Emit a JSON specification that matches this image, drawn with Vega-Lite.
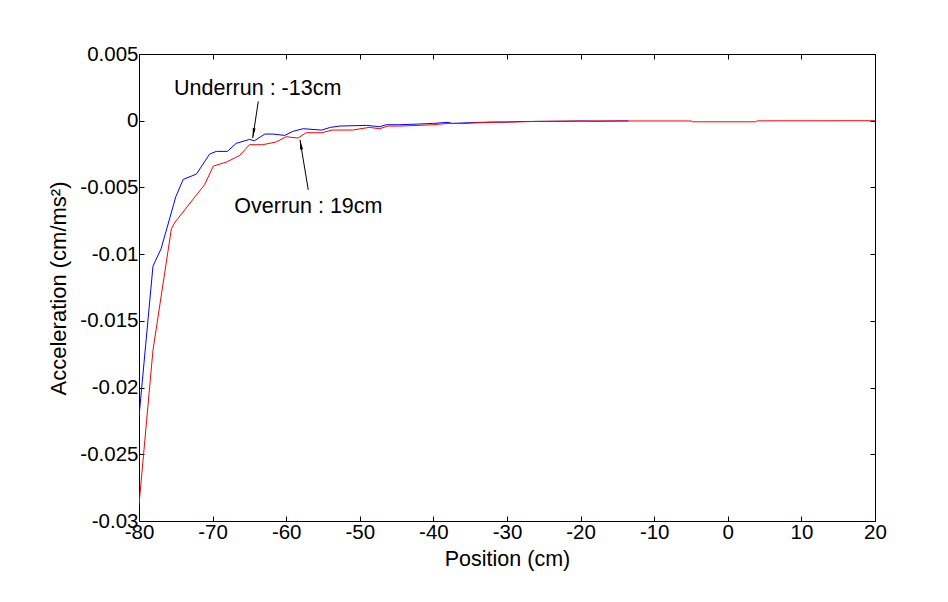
{
  "$schema": "https://vega.github.io/schema/vega-lite/v6.json",
  "autosize": "none",
  "width": 736,
  "height": 467,
  "padding": {"left": 139, "top": 54, "right": 73, "bottom": 81},
  "background": "white",
  "config": {
    "font": "Liberation Sans",
    "view": {"stroke": "black", "strokeWidth": 1},
    "axis": {
      "grid": false,
      "domainColor": "black",
      "tickColor": "black",
      "labelColor": "black",
      "titleColor": "black",
      "labelFont": "Liberation Sans",
      "titleFont": "Liberation Sans",
      "labelFontSize": 20.5,
      "titleFontSize": 21.5,
      "titleFontWeight": "normal",
      "tickSize": -5,
      "labelPadding": 6,
      "labelFlush": false,
      "labelOverlap": false
    }
  },
  "datasets": {
    "curves": [
      {"x": -80, "y": -0.0222, "run": "Underrun"},
      {"x": -78.1, "y": -0.0109, "run": "Underrun"},
      {"x": -77.0, "y": -0.0096, "run": "Underrun"},
      {"x": -75.0, "y": -0.0057, "run": "Underrun"},
      {"x": -74.0, "y": -0.0044, "run": "Underrun"},
      {"x": -72.2, "y": -0.0040, "run": "Underrun"},
      {"x": -70.4, "y": -0.0025, "run": "Underrun"},
      {"x": -69.5, "y": -0.0023, "run": "Underrun"},
      {"x": -68.0, "y": -0.0023, "run": "Underrun"},
      {"x": -66.8, "y": -0.0017, "run": "Underrun"},
      {"x": -65.0, "y": -0.0014, "run": "Underrun"},
      {"x": -64.3, "y": -0.0015, "run": "Underrun"},
      {"x": -62.9, "y": -0.0010, "run": "Underrun"},
      {"x": -61.8, "y": -0.0010, "run": "Underrun"},
      {"x": -60.2, "y": -0.0011, "run": "Underrun"},
      {"x": -59.1, "y": -0.0008, "run": "Underrun"},
      {"x": -57.7, "y": -0.0006, "run": "Underrun"},
      {"x": -55.2, "y": -0.0007, "run": "Underrun"},
      {"x": -54.0, "y": -0.0005, "run": "Underrun"},
      {"x": -52.7, "y": -0.0004, "run": "Underrun"},
      {"x": -49.1, "y": -0.00035, "run": "Underrun"},
      {"x": -47.3, "y": -0.00045, "run": "Underrun"},
      {"x": -46.4, "y": -0.0003, "run": "Underrun"},
      {"x": -44.6, "y": -0.0003, "run": "Underrun"},
      {"x": -42.0, "y": -0.00025, "run": "Underrun"},
      {"x": -40.0, "y": -0.0002, "run": "Underrun"},
      {"x": -38.0, "y": -0.00012, "run": "Underrun"},
      {"x": -37.5, "y": -0.0002, "run": "Underrun"},
      {"x": -35.0, "y": -0.00015, "run": "Underrun"},
      {"x": -32.0, "y": -0.0001, "run": "Underrun"},
      {"x": -30.0, "y": -0.0001, "run": "Underrun"},
      {"x": -28.0, "y": -0.00006, "run": "Underrun"},
      {"x": -25.0, "y": -0.00005, "run": "Underrun"},
      {"x": -22.0, "y": -0.00004, "run": "Underrun"},
      {"x": -20.0, "y": -0.00002, "run": "Underrun"},
      {"x": -18.0, "y": -0.00004, "run": "Underrun"},
      {"x": -15.0, "y": -0.00002, "run": "Underrun"},
      {"x": -13.5, "y": -0.00001, "run": "Underrun"},
      {"x": -80, "y": -0.0288, "run": "Overrun"},
      {"x": -78.1, "y": -0.0172, "run": "Overrun"},
      {"x": -75.6, "y": -0.0081, "run": "Overrun"},
      {"x": -75.1, "y": -0.0076, "run": "Overrun"},
      {"x": -71.1, "y": -0.0048, "run": "Overrun"},
      {"x": -69.9, "y": -0.0034, "run": "Overrun"},
      {"x": -68.1, "y": -0.0031, "run": "Overrun"},
      {"x": -66.3, "y": -0.0026, "run": "Overrun"},
      {"x": -65.0, "y": -0.0018, "run": "Overrun"},
      {"x": -63.2, "y": -0.0018, "run": "Overrun"},
      {"x": -61.4, "y": -0.0016, "run": "Overrun"},
      {"x": -60.0, "y": -0.0012, "run": "Overrun"},
      {"x": -58.4, "y": -0.0013, "run": "Overrun"},
      {"x": -57.3, "y": -0.0009, "run": "Overrun"},
      {"x": -55.2, "y": -0.0009, "run": "Overrun"},
      {"x": -53.7, "y": -0.0007, "run": "Overrun"},
      {"x": -51.0, "y": -0.0007, "run": "Overrun"},
      {"x": -48.7, "y": -0.0005, "run": "Overrun"},
      {"x": -47.3, "y": -0.0006, "run": "Overrun"},
      {"x": -46.2, "y": -0.0004, "run": "Overrun"},
      {"x": -44.6, "y": -0.0004, "run": "Overrun"},
      {"x": -42.0, "y": -0.00035, "run": "Overrun"},
      {"x": -40.0, "y": -0.0003, "run": "Overrun"},
      {"x": -38.0, "y": -0.0002, "run": "Overrun"},
      {"x": -36.0, "y": -0.00022, "run": "Overrun"},
      {"x": -34.0, "y": -0.00015, "run": "Overrun"},
      {"x": -32.0, "y": -0.00012, "run": "Overrun"},
      {"x": -30.0, "y": -0.0001, "run": "Overrun"},
      {"x": -28.0, "y": -0.00008, "run": "Overrun"},
      {"x": -26.0, "y": -0.00005, "run": "Overrun"},
      {"x": -22.0, "y": -0.00003, "run": "Overrun"},
      {"x": -18.0, "y": -0.00002, "run": "Overrun"},
      {"x": -13.0, "y": -0.00002, "run": "Overrun"},
      {"x": -5.0, "y": -0.00002, "run": "Overrun"},
      {"x": -4.8, "y": -0.00008, "run": "Overrun"},
      {"x": 3.8, "y": -0.00008, "run": "Overrun"},
      {"x": 4.0, "y": -0.00001, "run": "Overrun"},
      {"x": 20.0, "y": 0.0, "run": "Overrun"}
    ]
  },
  "resolve": {"axis": {"x": "independent", "y": "independent"}},
  "layer": [
    {
      "data": {"name": "curves"},
      "mark": {"type": "line", "strokeWidth": 1, "clip": true},
      "encoding": {
        "x": {
          "field": "x", "type": "quantitative",
          "scale": {"domain": [-80, 20], "nice": false, "zero": false},
          "axis": {
            "orient": "bottom",
            "values": [-80, -70, -60, -50, -40, -30, -20, -10, 0, 10, 20],
            "format": "d",
            "labelExpr": "replace(datum.label, '\u2212', '-')",
            "title": "Position (cm)",
            "titleBaseline": "alphabetic",
            "titleX": 368,
            "titleY": 44
          }
        },
        "y": {
          "field": "y", "type": "quantitative",
          "scale": {"domain": [-0.03, 0.005], "nice": false, "zero": false},
          "axis": {
            "orient": "left",
            "values": [-0.03, -0.025, -0.02, -0.015, -0.01, -0.005, 0, 0.005],
            "format": "~g",
            "labelExpr": "replace(datum.label, '\u2212', '-')",
            "title": "Acceleration (cm/ms²)",
            "titleAngle": -90,
            "titleBaseline": "alphabetic",
            "titleFontSize": 22,
            "titleX": -74,
            "titleY": 234
          }
        },
        "color": {
          "field": "run", "type": "nominal",
          "scale": {"domain": ["Underrun", "Overrun"], "range": ["#0000ff", "#ff0000"]},
          "legend": null
        }
      }
    },
    {
      "data": {"name": "curves"},
      "mark": {"type": "point", "opacity": 0},
      "encoding": {
        "x": {
          "field": "x", "type": "quantitative",
          "axis": {"orient": "top", "values": [-80, -70, -60, -50, -40, -30, -20, -10, 0, 10, 20], "labels": false, "title": null}
        },
        "y": {
          "field": "y", "type": "quantitative",
          "axis": {"orient": "right", "values": [-0.03, -0.025, -0.02, -0.015, -0.01, -0.005, 0, 0.005], "labels": false, "title": null}
        }
      }
    },
    {
      "data": {"values": [
        {"x": -63.79, "y": 0.00145, "x2": -64.55, "y2": -0.0013},
        {"x": -57.0, "y": -0.00518, "x2": -58.13, "y2": -0.00143}
      ]},
      "mark": {"type": "rule", "color": "black", "strokeWidth": 1},
      "encoding": {
        "x": {"field": "x", "type": "quantitative", "axis": null},
        "y": {"field": "y", "type": "quantitative", "axis": null},
        "x2": {"field": "x2"},
        "y2": {"field": "y2"}
      }
    },
    {
      "data": {"values": [{"x": -64.42, "y": -0.00081}]},
      "mark": {"type": "point", "shape": "wedge", "filled": true, "color": "black", "opacity": 1, "size": 130, "angle": 188.7},
      "encoding": {
        "x": {"field": "x", "type": "quantitative", "axis": null},
        "y": {"field": "y", "type": "quantitative", "axis": null}
      }
    },
    {
      "data": {"values": [{"x": -57.98, "y": -0.00191}]},
      "mark": {"type": "point", "shape": "wedge", "filled": true, "color": "black", "opacity": 1, "size": 130, "angle": 350.6},
      "encoding": {
        "x": {"field": "x", "type": "quantitative", "axis": null},
        "y": {"field": "y", "type": "quantitative", "axis": null}
      }
    },
    {
      "data": {"values": [
        {"x": -75.24, "y": 0.00195, "label": "Underrun : -13cm"},
        {"x": -67.05, "y": -0.00692, "label": "Overrun : 19cm"}
      ]},
      "mark": {"type": "text", "align": "left", "baseline": "alphabetic", "fontSize": 21.5, "font": "Liberation Sans", "color": "black"},
      "encoding": {
        "x": {"field": "x", "type": "quantitative", "axis": null},
        "y": {"field": "y", "type": "quantitative", "axis": null},
        "text": {"field": "label"}
      }
    }
  ]
}
